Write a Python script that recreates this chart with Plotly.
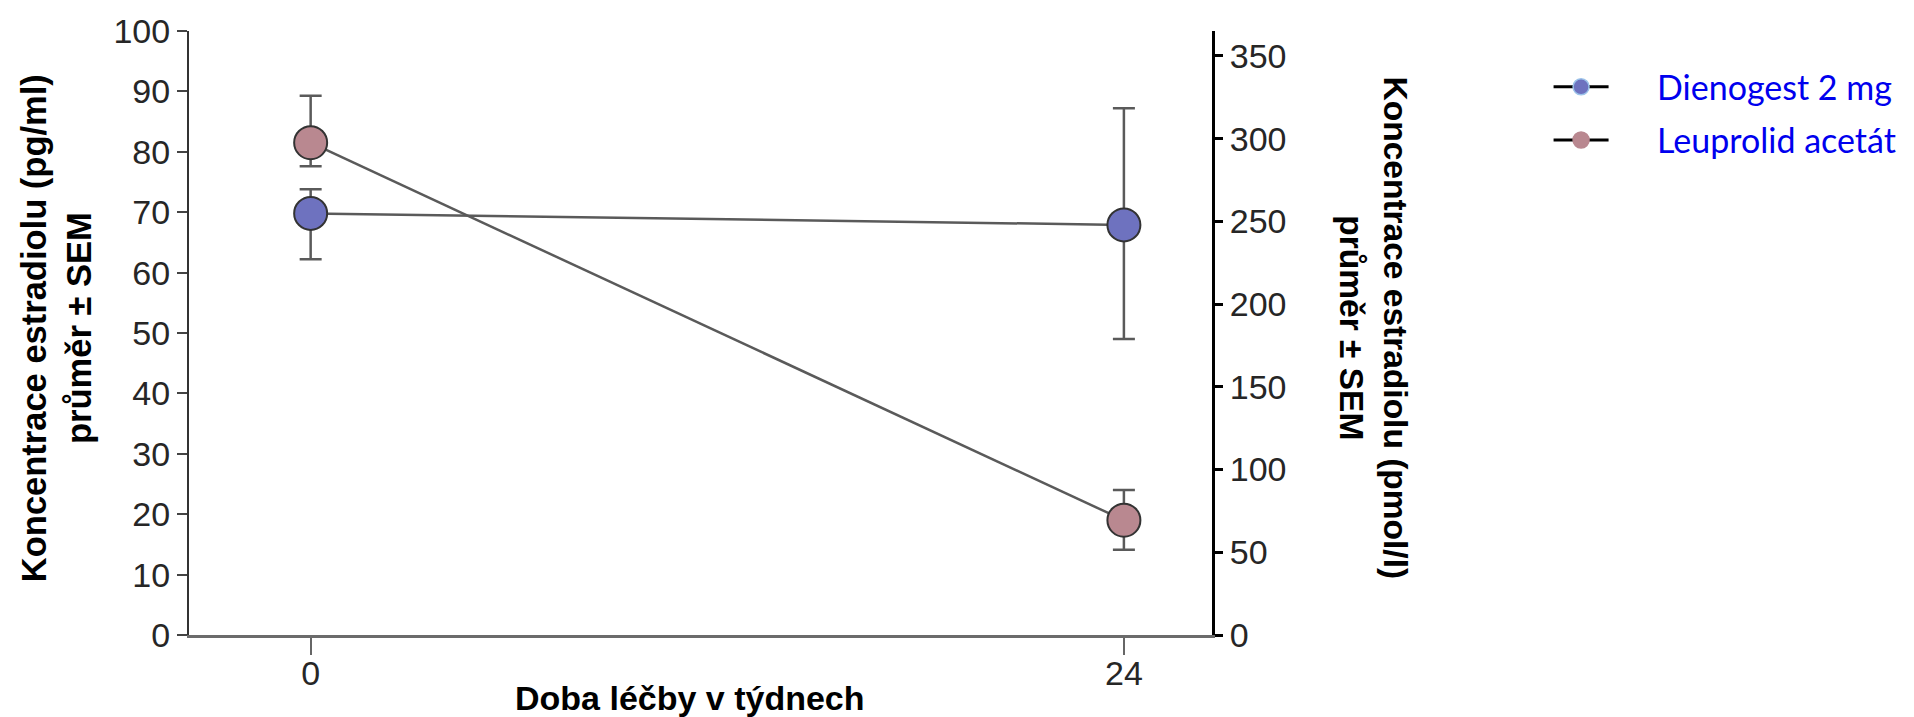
import plotly.graph_objects as go

weeks = [0, 24]
tick_weeks = [0, 24]

dienogest_mean = [69.8, 67.9]
dienogest_upper = [73.8, 87.2]
dienogest_lower = [62.2, 49.0]

leuprolid_mean = [81.5, 19.0]
leuprolid_upper = [89.3, 24.0]
leuprolid_lower = [77.6, 14.1]

series_names = ["Dienogest 2 mg", "Leuprolid acetát"]
fill_colors = ["#6e72bf", "#b98890"]
legend_outline = ["#9cc3ea", "#b98890"]

left_range = [0, 100]
right_range = [0, 365.1]   # pmol/l equivalent of 100 pg/ml
x_range = [-3.59, 26.6]

series = [
    (dienogest_mean, dienogest_upper, dienogest_lower),
    (leuprolid_mean, leuprolid_upper, leuprolid_lower),
]

fig = go.Figure()

for i, (m, up, lo) in enumerate(series):
    plus = [u - v for u, v in zip(up, m)]
    minus = [v - l for v, l in zip(m, lo)]
    fig.add_trace(go.Scatter(
        x=weeks, y=m, mode="lines+markers",
        line=dict(color="#5a5a5a", width=2.5),
        marker=dict(size=33, color=fill_colors[i], line=dict(color="#333333", width=2)),
        error_y=dict(type="data", symmetric=False, array=plus, arrayminus=minus,
                     color="#5a5a5a", thickness=2.5, width=11),
        showlegend=False, hoverinfo="skip",
    ))

pad = "\u00a0" * 5
for i, name in enumerate(series_names):
    fig.add_trace(go.Scatter(
        x=[None], y=[None], yaxis="y2", mode="lines+markers", name=pad + name,
        line=dict(color="black", width=3),
        marker=dict(size=17, color=fill_colors[i], line=dict(color=legend_outline[i], width=1.5)),
        legendgroup=name,
    ))

tickfont = dict(family="Liberation Sans, Arial", size=34, color="#262626")

fig.update_layout(
    width=1914, height=717,
    margin=dict(l=189, r=702, t=31, b=82, autoexpand=False),
    plot_bgcolor="white", paper_bgcolor="white",
    xaxis=dict(range=x_range, tickvals=tick_weeks, ticktext=[str(t) for t in tick_weeks],
               ticks="outside", ticklen=17, tickwidth=2, tickcolor="#666666",
               ticklabelstandoff=-11,
               showline=True, linecolor="#6b6b6b", linewidth=3,
               showgrid=False, zeroline=False, tickfont=tickfont),
    yaxis=dict(range=left_range, dtick=10, ticks="outside", ticklen=10, tickwidth=2,
               tickcolor="#444444", showline=True, linecolor="#333333", linewidth=2,
               showgrid=False, zeroline=False, tickfont=tickfont),
    yaxis2=dict(range=right_range, dtick=50, overlaying="y", side="right", anchor="x",
                ticks="outside", ticklen=8, tickwidth=3, tickcolor="black",
                showline=True, linecolor="black", linewidth=3,
                showgrid=False, zeroline=False, tickfont=tickfont),
    legend=dict(x=1.329, y=0.955, xanchor="left", yanchor="top",
                font=dict(family="Lato, Open Sans", size=34, color="#0000ee"),
                traceorder="grouped", tracegroupgap=6, itemwidth=55,
                bgcolor="rgba(0,0,0,0)"),
    annotations=[
        dict(text="<b>Koncentrace estradiolu (pg/ml)<br>průměr ± SEM</b>",
             textangle=-90, xref="paper", yref="paper", x=-0.13, y=0.508,
             xanchor="center", yanchor="middle", showarrow=False,
             font=dict(family="Liberation Sans, Arial", size=34.5, color="black")),
        dict(text="<b>Koncentrace estradiolu (pmol/l)<br>průměr ± SEM</b>",
             textangle=90, xref="paper", yref="paper", x=1.158, y=0.508,
             xanchor="center", yanchor="middle", showarrow=False,
             font=dict(family="Liberation Sans, Arial", size=33.5, color="black")),
        dict(text="<b>Doba léčby v týdnech</b>",
             xref="paper", yref="paper", x=0.49, y=-0.105,
             xanchor="center", yanchor="middle", showarrow=False,
             font=dict(family="Liberation Sans, Arial", size=34, color="black")),
    ],
)

fig.write_html("out.html", config={"displayModeBar": False},
               post_script="document.body.style.margin='0';")
